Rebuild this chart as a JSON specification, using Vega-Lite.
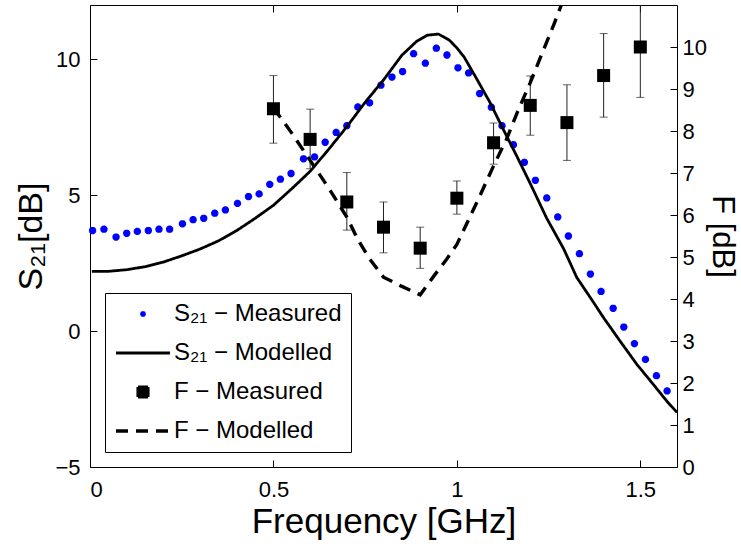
{
  "$schema": "https://vega.github.io/schema/vega-lite/v6.json",
  "width": 587,
  "height": 462,
  "autosize": "none",
  "padding": {"left": 90, "top": 5, "right": 64, "bottom": 77},
  "background": "white",
  "config": {
    "view": {"stroke": "black", "strokeWidth": 1},
    "axis": {
      "grid": false,
      "domain": false,
      "offset": -7,
      "ticks": true,
      "tickColor": "black",
      "tickWidth": 1,
      "tickSize": 7,
      "zindex": 1,
      "labelColor": "black",
      "titleColor": "black",
      "labelFont": "Liberation Sans",
      "titleFont": "Liberation Sans",
      "labelFontSize": 22,
      "titleFontSize": 34,
      "titleFontWeight": "normal"
    },
    "legend": {
      "orient": "bottom-left",
      "offset": 15,
      "padding": 9,
      "strokeColor": "black",
      "fillColor": "white",
      "labelFont": "Liberation Sans",
      "labelFontSize": 24,
      "labelColor": "black",
      "labelLimit": 400,
      "rowPadding": 15,
      "symbolOffset": 17,
      "symbolSize": 400,
      "labelOffset": 19
    }
  },
  "datasets": {
    "s21meas": [
      {"f": 0.007, "s21": 3.70, "series": "S₂₁ − Measured"},
      {"f": 0.038, "s21": 3.75, "series": "S₂₁ − Measured"},
      {"f": 0.071, "s21": 3.46, "series": "S₂₁ − Measured"},
      {"f": 0.100, "s21": 3.60, "series": "S₂₁ − Measured"},
      {"f": 0.129, "s21": 3.67, "series": "S₂₁ − Measured"},
      {"f": 0.159, "s21": 3.70, "series": "S₂₁ − Measured"},
      {"f": 0.188, "s21": 3.75, "series": "S₂₁ − Measured"},
      {"f": 0.217, "s21": 3.75, "series": "S₂₁ − Measured"},
      {"f": 0.252, "s21": 3.95, "series": "S₂₁ − Measured"},
      {"f": 0.281, "s21": 4.10, "series": "S₂₁ − Measured"},
      {"f": 0.310, "s21": 4.15, "series": "S₂₁ − Measured"},
      {"f": 0.340, "s21": 4.34, "series": "S₂₁ − Measured"},
      {"f": 0.369, "s21": 4.46, "series": "S₂₁ − Measured"},
      {"f": 0.402, "s21": 4.70, "series": "S₂₁ − Measured"},
      {"f": 0.432, "s21": 4.95, "series": "S₂₁ − Measured"},
      {"f": 0.461, "s21": 5.05, "series": "S₂₁ − Measured"},
      {"f": 0.490, "s21": 5.40, "series": "S₂₁ − Measured"},
      {"f": 0.519, "s21": 5.59, "series": "S₂₁ − Measured"},
      {"f": 0.548, "s21": 5.80, "series": "S₂₁ − Measured"},
      {"f": 0.582, "s21": 6.34, "series": "S₂₁ − Measured"},
      {"f": 0.612, "s21": 6.41, "series": "S₂₁ − Measured"},
      {"f": 0.641, "s21": 6.95, "series": "S₂₁ − Measured"},
      {"f": 0.671, "s21": 7.31, "series": "S₂₁ − Measured"},
      {"f": 0.700, "s21": 7.56, "series": "S₂₁ − Measured"},
      {"f": 0.730, "s21": 8.25, "series": "S₂₁ − Measured"},
      {"f": 0.762, "s21": 8.40, "series": "S₂₁ − Measured"},
      {"f": 0.793, "s21": 9.05, "series": "S₂₁ − Measured"},
      {"f": 0.823, "s21": 9.35, "series": "S₂₁ − Measured"},
      {"f": 0.852, "s21": 9.55, "series": "S₂₁ − Measured"},
      {"f": 0.882, "s21": 10.21, "series": "S₂₁ − Measured"},
      {"f": 0.914, "s21": 9.86, "series": "S₂₁ − Measured"},
      {"f": 0.944, "s21": 10.41, "series": "S₂₁ − Measured"},
      {"f": 0.973, "s21": 10.16, "series": "S₂₁ − Measured"},
      {"f": 1.003, "s21": 9.69, "series": "S₂₁ − Measured"},
      {"f": 1.032, "s21": 9.50, "series": "S₂₁ − Measured"},
      {"f": 1.062, "s21": 8.74, "series": "S₂₁ − Measured"},
      {"f": 1.094, "s21": 8.24, "series": "S₂₁ − Measured"},
      {"f": 1.123, "s21": 7.56, "series": "S₂₁ − Measured"},
      {"f": 1.154, "s21": 6.86, "series": "S₂₁ − Measured"},
      {"f": 1.184, "s21": 6.21, "series": "S₂₁ − Measured"},
      {"f": 1.214, "s21": 5.55, "series": "S₂₁ − Measured"},
      {"f": 1.245, "s21": 4.90, "series": "S₂₁ − Measured"},
      {"f": 1.275, "s21": 4.20, "series": "S₂₁ − Measured"},
      {"f": 1.304, "s21": 3.50, "series": "S₂₁ − Measured"},
      {"f": 1.334, "s21": 2.85, "series": "S₂₁ − Measured"},
      {"f": 1.364, "s21": 2.10, "series": "S₂₁ − Measured"},
      {"f": 1.393, "s21": 1.46, "series": "S₂₁ − Measured"},
      {"f": 1.426, "s21": 0.84, "series": "S₂₁ − Measured"},
      {"f": 1.455, "s21": 0.15, "series": "S₂₁ − Measured"},
      {"f": 1.484, "s21": -0.46, "series": "S₂₁ − Measured"},
      {"f": 1.514, "s21": -1.04, "series": "S₂₁ − Measured"},
      {"f": 1.544, "s21": -1.64, "series": "S₂₁ − Measured"},
      {"f": 1.573, "s21": -2.20, "series": "S₂₁ − Measured"}
    ],
    "s21mod": [
      {"f": 0.005, "s21": 2.20, "series": "S₂₁ − Modelled"},
      {"f": 0.05, "s21": 2.20, "series": "S₂₁ − Modelled"},
      {"f": 0.1, "s21": 2.26, "series": "S₂₁ − Modelled"},
      {"f": 0.15, "s21": 2.37, "series": "S₂₁ − Modelled"},
      {"f": 0.2, "s21": 2.54, "series": "S₂₁ − Modelled"},
      {"f": 0.25, "s21": 2.77, "series": "S₂₁ − Modelled"},
      {"f": 0.3, "s21": 3.02, "series": "S₂₁ − Modelled"},
      {"f": 0.35, "s21": 3.32, "series": "S₂₁ − Modelled"},
      {"f": 0.4, "s21": 3.70, "series": "S₂₁ − Modelled"},
      {"f": 0.45, "s21": 4.15, "series": "S₂₁ − Modelled"},
      {"f": 0.5, "s21": 4.63, "series": "S₂₁ − Modelled"},
      {"f": 0.55, "s21": 5.24, "series": "S₂₁ − Modelled"},
      {"f": 0.6, "s21": 5.88, "series": "S₂₁ − Modelled"},
      {"f": 0.65, "s21": 6.68, "series": "S₂₁ − Modelled"},
      {"f": 0.7, "s21": 7.52, "series": "S₂₁ − Modelled"},
      {"f": 0.75, "s21": 8.42, "series": "S₂₁ − Modelled"},
      {"f": 0.8, "s21": 9.24, "series": "S₂₁ − Modelled"},
      {"f": 0.85, "s21": 10.15, "series": "S₂₁ − Modelled"},
      {"f": 0.89, "s21": 10.66, "series": "S₂₁ − Modelled"},
      {"f": 0.92, "s21": 10.89, "series": "S₂₁ − Modelled"},
      {"f": 0.95, "s21": 10.93, "series": "S₂₁ − Modelled"},
      {"f": 0.98, "s21": 10.70, "series": "S₂₁ − Modelled"},
      {"f": 1.0, "s21": 10.42, "series": "S₂₁ − Modelled"},
      {"f": 1.02, "s21": 10.08, "series": "S₂₁ − Modelled"},
      {"f": 1.055, "s21": 9.26, "series": "S₂₁ − Modelled"},
      {"f": 1.09, "s21": 8.42, "series": "S₂₁ − Modelled"},
      {"f": 1.127, "s21": 7.41, "series": "S₂₁ − Modelled"},
      {"f": 1.164, "s21": 6.42, "series": "S₂₁ − Modelled"},
      {"f": 1.2, "s21": 5.43, "series": "S₂₁ − Modelled"},
      {"f": 1.245, "s21": 4.15, "series": "S₂₁ − Modelled"},
      {"f": 1.291, "s21": 3.03, "series": "S₂₁ − Modelled"},
      {"f": 1.327, "s21": 1.97, "series": "S₂₁ − Modelled"},
      {"f": 1.364, "s21": 1.23, "series": "S₂₁ − Modelled"},
      {"f": 1.4, "s21": 0.49, "series": "S₂₁ − Modelled"},
      {"f": 1.445, "s21": -0.37, "series": "S₂₁ − Modelled"},
      {"f": 1.491, "s21": -1.23, "series": "S₂₁ − Modelled"},
      {"f": 1.536, "s21": -1.97, "series": "S₂₁ − Modelled"},
      {"f": 1.573, "s21": -2.59, "series": "S₂₁ − Modelled"},
      {"f": 1.6, "s21": -2.99, "series": "S₂₁ − Modelled"}
    ],
    "fmeas": [
      {"f": 0.5, "F": 8.53, "lo": 7.71, "hi": 9.32, "series": "F − Measured"},
      {"f": 0.6, "F": 7.80, "lo": 7.10, "hi": 8.52, "series": "F − Measured"},
      {"f": 0.7, "F": 6.31, "lo": 5.64, "hi": 7.01, "series": "F − Measured"},
      {"f": 0.8, "F": 5.71, "lo": 5.10, "hi": 6.31, "series": "F − Measured"},
      {"f": 0.9, "F": 5.21, "lo": 4.73, "hi": 5.71, "series": "F − Measured"},
      {"f": 1.0, "F": 6.40, "lo": 6.02, "hi": 6.81, "series": "F − Measured"},
      {"f": 1.1, "F": 7.72, "lo": 7.21, "hi": 8.19, "series": "F − Measured"},
      {"f": 1.2, "F": 8.61, "lo": 7.90, "hi": 9.31, "series": "F − Measured"},
      {"f": 1.3, "F": 8.20, "lo": 7.30, "hi": 9.10, "series": "F − Measured"},
      {"f": 1.4, "F": 9.32, "lo": 8.33, "hi": 10.32, "series": "F − Measured"},
      {"f": 1.5, "F": 10.00, "lo": 8.80, "hi": 11.20, "series": "F − Measured"}
    ],
    "fmod": [
      {"f": 0.5, "F": 8.55, "series": "F − Modelled"},
      {"f": 0.55, "F": 7.95, "series": "F − Modelled"},
      {"f": 0.6, "F": 7.30, "series": "F − Modelled"},
      {"f": 0.65, "F": 6.65, "series": "F − Modelled"},
      {"f": 0.7, "F": 5.95, "series": "F − Modelled"},
      {"f": 0.73, "F": 5.42, "series": "F − Modelled"},
      {"f": 0.76, "F": 4.98, "series": "F − Modelled"},
      {"f": 0.8, "F": 4.52, "series": "F − Modelled"},
      {"f": 0.85, "F": 4.30, "series": "F − Modelled"},
      {"f": 0.9, "F": 4.10, "series": "F − Modelled"},
      {"f": 0.94, "F": 4.58, "series": "F − Modelled"},
      {"f": 0.97, "F": 4.92, "series": "F − Modelled"},
      {"f": 1.0, "F": 5.30, "series": "F − Modelled"},
      {"f": 1.03, "F": 5.85, "series": "F − Modelled"},
      {"f": 1.065, "F": 6.50, "series": "F − Modelled"},
      {"f": 1.1, "F": 7.17, "series": "F − Modelled"},
      {"f": 1.135, "F": 7.80, "series": "F − Modelled"},
      {"f": 1.165, "F": 8.45, "series": "F − Modelled"},
      {"f": 1.2, "F": 9.15, "series": "F − Modelled"},
      {"f": 1.23, "F": 9.80, "series": "F − Modelled"},
      {"f": 1.265, "F": 10.55, "series": "F − Modelled"},
      {"f": 1.3, "F": 11.35, "series": "F − Modelled"}
    ]
  },
  "layer": [
    {
      "layer": [
        {
          "data": {"name": "s21meas"},
          "mark": {"type": "point", "filled": false, "size": 676, "opacity": 1},
          "encoding": {
            "x": {"field": "f", "type": "quantitative", "scale": {"domain": [0, 1.6], "nice": false, "zero": false},
                  "axis": {"orient": "bottom", "values": [0, 0.5, 1, 1.5], "format": "~g", "labelPadding": 12, "title": "Frequency [GHz]", "titlePadding": 4, "titleFontSize": 35}},
            "y": {"field": "s21", "type": "quantitative", "scale": {"domain": [-5, 12], "nice": false, "zero": false},
                  "axis": {"orient": "left", "values": [-5, 0, 5, 10], "labelPadding": 10, "title": "S₂₁[dB]", "titlePadding": 6}},
            "color": {"field": "series", "type": "nominal",
                      "scale": {"domain": ["S₂₁ − Measured", "S₂₁ − Modelled", "F − Measured", "F − Modelled"], "range": ["#0000ff", "#000000", "#000000", "#000000"]},
                      "legend": {"title": null, "encode": {"symbols": {"update": {"fill": {"scale": "color", "field": "value"}, "stroke": {"scale": "color", "field": "value"}, "opacity": {"value": 1}}}}}},
            "shape": {"field": "series", "type": "nominal",
                      "scale": {"domain": ["S₂₁ − Measured", "S₂₁ − Modelled", "F − Measured", "F − Modelled"],
                                "range": ["M-0.28,0L0.28,0M0,-0.28L0,0.28M-0.2,-0.2L0.2,0.2M-0.2,0.2L0.2,-0.2", "M-2.7,0L2.7,0", "M-0.5,-0.5L0.5,-0.5L0.5,0.5L-0.5,0.5Z", "M-2.7,0L2.7,0"]},
                      "legend": {"title": null}},
            "strokeWidth": {"field": "series", "type": "nominal",
                      "scale": {"domain": ["S₂₁ − Measured", "S₂₁ − Modelled", "F − Measured", "F − Modelled"], "range": [2.5, 3.4, 0, 3.4]},
                      "legend": {"title": null}}
          }
        },
        {
          "data": {"name": "s21mod"},
          "mark": {"type": "line"},
          "encoding": {
            "x": {"field": "f", "type": "quantitative"},
            "y": {"field": "s21", "type": "quantitative"},
            "color": {"field": "series", "type": "nominal"},
            "strokeWidth": {"field": "series", "type": "nominal"},
            "strokeDash": {"field": "series", "type": "nominal",
                      "scale": {"domain": ["S₂₁ − Measured", "S₂₁ − Modelled", "F − Measured", "F − Modelled"], "range": [[1, 0], [1, 0], [1, 0], [12, 8]]},
                      "legend": {"title": null}}
          }
        }
      ]
    },
    {
      "layer": [
        {
          "data": {"name": "fmeas"},
          "mark": {"type": "rule", "clip": true, "color": "#222222", "strokeWidth": 1},
          "encoding": {
            "x": {"field": "f", "type": "quantitative",
                  "axis": {"orient": "top", "values": [0, 0.5, 1, 1.5], "labels": false, "title": null}},
            "y": {"field": "lo", "type": "quantitative", "scale": {"domain": [0, 11], "nice": false, "zero": false},
                  "axis": {"orient": "right", "values": [0, 1, 2, 3, 4, 5, 6, 7, 8, 9, 10], "labelPadding": 5, "title": "F [dB]", "titlePadding": -1, "titleFontSize": 31}},
            "y2": {"field": "hi"}
          }
        },
        {
          "data": {"name": "fmeas"},
          "mark": {"type": "tick", "orient": "horizontal", "clip": true, "color": "#222222", "size": 8, "thickness": 1},
          "encoding": {
            "x": {"field": "f", "type": "quantitative"},
            "y": {"field": "lo", "type": "quantitative"}
          }
        },
        {
          "data": {"name": "fmeas"},
          "mark": {"type": "tick", "orient": "horizontal", "clip": true, "color": "#222222", "size": 8, "thickness": 1},
          "encoding": {
            "x": {"field": "f", "type": "quantitative"},
            "y": {"field": "hi", "type": "quantitative"}
          }
        },
        {
          "data": {"name": "fmeas"},
          "mark": {"type": "point", "filled": true, "size": 676, "opacity": 1},
          "encoding": {
            "x": {"field": "f", "type": "quantitative"},
            "y": {"field": "F", "type": "quantitative"},
            "color": {"field": "series", "type": "nominal"},
            "shape": {"field": "series", "type": "nominal"},
            "strokeWidth": {"field": "series", "type": "nominal"}
          }
        },
        {
          "data": {"name": "fmod"},
          "mark": {"type": "line", "clip": true},
          "encoding": {
            "x": {"field": "f", "type": "quantitative"},
            "y": {"field": "F", "type": "quantitative"},
            "color": {"field": "series", "type": "nominal"},
            "strokeWidth": {"field": "series", "type": "nominal"},
            "strokeDash": {"field": "series", "type": "nominal"}
          }
        }
      ]
    }
  ],
  "resolve": {"scale": {"y": "independent"}, "axis": {"x": "independent"}}
}
